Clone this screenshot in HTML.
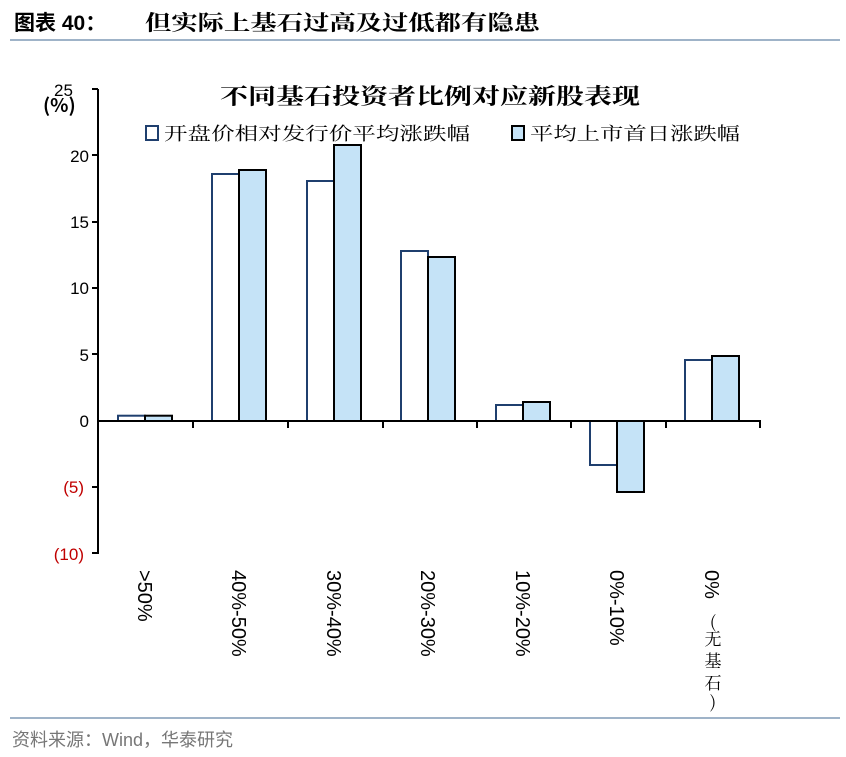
<!DOCTYPE html>
<html><head><meta charset="utf-8"><style>
body{margin:0;background:#fff;}
</style></head><body>
<svg width="846" height="752" viewBox="0 0 846 752" xmlns="http://www.w3.org/2000/svg" font-family="'Liberation Sans','Noto Sans CJK SC',sans-serif">
<text x="14" y="30" font-size="21" font-weight="bold" fill="#000">图表 40：</text>
<text x="145" y="30" font-size="21" font-weight="bold" fill="#000" font-family="'Noto Serif CJK SC','Noto Sans CJK SC',serif" textLength="395" lengthAdjust="spacingAndGlyphs">但实际上基石过高及过低都有隐患</text>
<line x1="10" y1="40" x2="840" y2="40" stroke="#9fb3c8" stroke-width="2"/>
<text x="220" y="104" font-size="22" font-weight="bold" font-family="'Noto Serif CJK SC','Noto Sans CJK SC',serif" textLength="420" lengthAdjust="spacingAndGlyphs">不同基石投资者比例对应新股表现</text>
<text x="54" y="96" font-size="17">25</text>
<text x="43" y="112" font-size="19" font-weight="bold" fill="#000" font-family="'Noto Sans CJK SC',sans-serif">(%)</text>
<rect x="146" y="126" width="12" height="14" fill="#fff" stroke="#1f3f6e" stroke-width="2"/>
<text x="164" y="140" font-size="18" font-family="'Noto Serif CJK SC','Noto Sans CJK SC',serif" textLength="306" lengthAdjust="spacingAndGlyphs">开盘价相对发行价平均涨跌幅</text>
<rect x="512" y="126" width="12" height="14" fill="#c5e3f7" stroke="#000" stroke-width="2"/>
<text x="530" y="140" font-size="18" font-family="'Noto Serif CJK SC','Noto Sans CJK SC',serif" textLength="210" lengthAdjust="spacingAndGlyphs">平均上市首日涨跌幅</text>
<g font-size="17" text-anchor="end">
<text x="89" y="162">20</text>
<text x="89" y="228">15</text>
<text x="89" y="294">10</text>
<text x="89" y="361">5</text>
<text x="89" y="427">0</text>
<text x="84" y="493" fill="#c00000">(5)</text>
<text x="84" y="560" fill="#c00000">(10)</text>
</g>
<g stroke="#000" stroke-width="2">
<line x1="98" y1="89" x2="98" y2="554"/>
<line x1="92" y1="89" x2="98" y2="89"/>
<line x1="92" y1="155" x2="98" y2="155"/>
<line x1="92" y1="222" x2="98" y2="222"/>
<line x1="92" y1="288" x2="98" y2="288"/>
<line x1="92" y1="354" x2="98" y2="354"/>
<line x1="92" y1="487" x2="98" y2="487"/>
<line x1="92" y1="553" x2="98" y2="553"/>
</g>
<g stroke-width="2">
<rect x="118" y="415.7" width="27" height="5.3" fill="#fff" stroke="#1f3f6e"/>
<rect x="145" y="415.7" width="27" height="5.3" fill="#c5e3f7" stroke="#000"/>
<rect x="212" y="174" width="27" height="247" fill="#fff" stroke="#1f3f6e"/>
<rect x="239" y="170" width="27" height="251" fill="#c5e3f7" stroke="#000"/>
<rect x="307" y="181" width="27" height="240" fill="#fff" stroke="#1f3f6e"/>
<rect x="334" y="145" width="27" height="276" fill="#c5e3f7" stroke="#000"/>
<rect x="401" y="251" width="27" height="170" fill="#fff" stroke="#1f3f6e"/>
<rect x="428" y="257" width="27" height="164" fill="#c5e3f7" stroke="#000"/>
<rect x="496" y="405" width="27" height="16" fill="#fff" stroke="#1f3f6e"/>
<rect x="523" y="402" width="27" height="19" fill="#c5e3f7" stroke="#000"/>
<rect x="590" y="421" width="27" height="44" fill="#fff" stroke="#1f3f6e"/>
<rect x="617" y="421" width="27" height="71" fill="#c5e3f7" stroke="#000"/>
<rect x="685" y="360" width="27" height="61" fill="#fff" stroke="#1f3f6e"/>
<rect x="712" y="356" width="27" height="65" fill="#c5e3f7" stroke="#000"/>
</g>
<g stroke="#000" stroke-width="2">
<line x1="98" y1="421" x2="761" y2="421"/>
<line x1="193" y1="421" x2="193" y2="428"/>
<line x1="288" y1="421" x2="288" y2="428"/>
<line x1="383" y1="421" x2="383" y2="428"/>
<line x1="477" y1="421" x2="477" y2="428"/>
<line x1="571" y1="421" x2="571" y2="428"/>
<line x1="666" y1="421" x2="666" y2="428"/>
<line x1="760" y1="421" x2="760" y2="428"/>
</g>
<g font-size="20">
<text transform="translate(138,570) rotate(90)">&gt;50%</text>
<text transform="translate(232,570) rotate(90)">40%-50%</text>
<text transform="translate(327,570) rotate(90)">30%-40%</text>
<text transform="translate(421,570) rotate(90)">20%-30%</text>
<text transform="translate(516,570) rotate(90)">10%-20%</text>
<text transform="translate(610,570) rotate(90)">0%-10%</text>
<text transform="translate(705,570) rotate(90)">0%</text>
</g>
<g font-size="17" text-anchor="middle" font-family="'Noto Serif CJK SC','Noto Sans CJK SC',serif">
<text x="713" y="628">(</text>
<text x="713" y="645">无</text>
<text x="713" y="667">基</text>
<text x="713" y="689">石</text>
<text x="713" y="708">)</text>
</g>
<line x1="10" y1="718" x2="840" y2="718" stroke="#9fb3c8" stroke-width="2"/>
<text x="12" y="746" font-size="18" fill="#777">资料来源：Wind，华泰研究</text>
</svg>
</body></html>
